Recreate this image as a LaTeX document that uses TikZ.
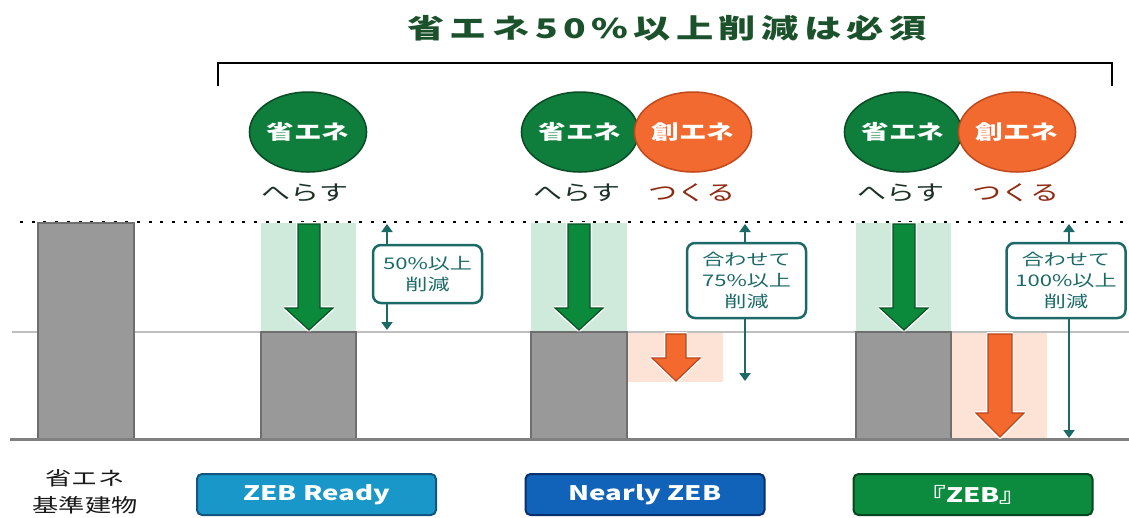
\documentclass[tikz,border=0pt]{standalone}
\usepackage{fontspec}
\setmainfont{Noto Sans CJK JP}[FakeStretch=1.38]
\usetikzlibrary{arrows.meta,shapes.geometric}
\definecolor{titlegreen}{HTML}{1B512B}
\definecolor{cgreen}{HTML}{0F7D3B}
\definecolor{cgreenD}{HTML}{0A4A24}
\definecolor{corange}{HTML}{F26A30}
\definecolor{corangeD}{HTML}{C0481A}
\definecolor{lgreen}{HTML}{CFE9DB}
\definecolor{lorange}{HTML}{FDE3D6}
\definecolor{barfill}{HTML}{999999}
\definecolor{barline}{HTML}{6E6E6E}
\definecolor{teal}{HTML}{1B6A68}
\definecolor{darktext}{HTML}{1C3326}
\definecolor{redtext}{HTML}{8E2B12}
\definecolor{aGreen}{HTML}{0B8A3C}
\definecolor{aGreenD}{HTML}{0A5226}
\definecolor{aOrange}{HTML}{F46A2E}
\definecolor{aOrangeD}{HTML}{B8461A}
\definecolor{bReady}{HTML}{1A97C9}
\definecolor{bReadyD}{HTML}{12557F}
\definecolor{bNearly}{HTML}{1063B8}
\definecolor{bNearlyD}{HTML}{0A2F6E}
\definecolor{bZEB}{HTML}{0C8A3E}
\definecolor{bZEBD}{HTML}{06471F}
\newcommand\DownArrow[7]{% cx, top, headstart, tip, halfshaft, fill, border
  \draw[white, line width=4pt, line join=round] ({#1-#5},#2) -- ({#1+#5},#2) -- ({#1+#5},#3) -- ({#1+24},#3) -- (#1,#4) -- ({#1-24},#3) -- ({#1-#5},#3) -- cycle;
  \draw[#7, fill=#6, line width=1.2pt, line join=miter] ({#1-#5},#2) -- ({#1+#5},#2) -- ({#1+#5},#3) -- ({#1+24},#3) -- (#1,#4) -- ({#1-24},#3) -- ({#1-#5},#3) -- cycle;}
\begin{document}
\begin{tikzpicture}[x=1pt,y=-1pt,
  circ/.style={ellipse, minimum width=112pt, minimum height=80pt, inner sep=0pt, line width=1.5pt, text=white, font=\fontsize{20}{24}\selectfont\bfseries},
  greencirc/.style={circ, fill=cgreen, draw=cgreenD},
  orangecirc/.style={circ, fill=corange, draw=corangeD},
  verb/.style={inner sep=0pt, font=\fontsize{21}{24}\selectfont},
  infobox/.style={draw=teal, line width=2.5pt, rounded corners=8pt, fill=white, text=teal, align=center, inner sep=0pt, font=\fontsize{16}{21}\selectfont},
  dimarrow/.style={teal, line width=2pt, {Triangle[width=11pt,length=8pt]}-{Triangle[width=11pt,length=8pt]}},
  bar/.style={fill=barfill, draw=barline, line width=1.5pt},
  zebbox/.style={rounded corners=5pt, line width=2pt, minimum width=239pt, minimum height=41pt, inner sep=0pt, text=white, font=\fontsize{20}{24}\selectfont\bfseries},
]
\useasboundingbox (0,0) rectangle (1129,517);
\fill[white] (0,0) rectangle (1129,517);

% title and bracket
\node[text=titlegreen, inner sep=0pt, font=\fontsize{27}{30}\selectfont\bfseries\addfontfeature{LetterSpace=20}] (title) at (667,28) {省エネ50\%以上削減は必須};
\coordinate (brL) at (218,86);
\coordinate (brR) at (1112,86);
\draw[black, line width=2.5pt] (brL) -- ++(0,-23) -| (brR);

% circles
\node[greencirc] (c1) at (308,132) {省エネ};
\node[greencirc] (c2) at (580,132) {省エネ};
\node[orangecirc] (o2) at (693,132) {創エネ};
\node[greencirc] (c3) at (903,132) {省エネ};
\node[orangecirc] (o3) at (1017,132) {創エネ};

\node[verb, text=darktext] (h1) at (305,193) {へらす};
\node[verb, text=darktext] (h2) at (577,193) {へらす};
\node[verb, text=redtext] (t2) at (692,193) {つくる};
\node[verb, text=darktext] (h3) at (901,193) {へらす};
\node[verb, text=redtext] (t3) at (1016,193) {つくる};

% light regions
\fill[lgreen] (261,223) rectangle (356,332);
\fill[lgreen] (531,223) rectangle (627,332);
\fill[lgreen] (856,223) rectangle (951,332);
\fill[lorange] (628,332) rectangle (723,382);
\fill[lorange] (951,332) rectangle (1047,439);

% reference lines
\draw[black, line width=2.5pt, dash pattern=on 3pt off 8.7pt] (20,222) -- (1129,222);
\draw[black!25, line width=1.5pt] (12,332) -- (1129,332);

% bars
\draw[bar] (38,223) rectangle (134,439);
\draw[bar] (261,332) rectangle (356,439);
\draw[bar] (531,332) rectangle (627,439);
\draw[bar] (856,332) rectangle (951,439);
\draw[black!50, line width=3pt] (10,439.5) -- (1129,439.5);

% block arrows
\DownArrow{309}{224}{308}{330}{11}{aGreen}{aGreenD}
\DownArrow{579}{224}{308}{330}{11}{aGreen}{aGreenD}
\DownArrow{904}{224}{308}{330}{11}{aGreen}{aGreenD}
\DownArrow{676}{334}{358}{381}{10}{aOrange}{aOrangeD}
\DownArrow{1000}{334}{413}{437}{12}{aOrange}{aOrangeD}

% dimension arrows and boxes
\coordinate (d1t) at (387,224); \coordinate (d1b) at (387,330);
\coordinate (d2t) at (745,224); \coordinate (d2b) at (745,381);
\coordinate (d3t) at (1069,224); \coordinate (d3b) at (1069,438);
\draw[dimarrow] (d1t) -- (d1b);
\draw[dimarrow] (d2t) -- (d2b);
\draw[dimarrow] (d3t) -- (d3b);
\node[infobox, minimum width=109pt, minimum height=58pt] (b1) at (427.5,274) {50\%以上\\削減};
\node[infobox, minimum width=119pt, minimum height=75pt] (b2) at (746.5,280.5) {合わせて\\75\%以上\\削減};
\node[infobox, minimum width=119pt, minimum height=75pt] (b3) at (1066,280.5) {合わせて\\100\%以上\\削減};

% bottom labels
\node[align=center, inner sep=0pt, text=black!90, font=\fontsize{19}{27}\selectfont] (base) at (85,492) {省エネ\\基準建物};
\node[zebbox, fill=bReady, draw=bReadyD] (z1) at (316.5,494.5) {ZEB Ready};
\node[zebbox, fill=bNearly, draw=bNearlyD] (z2) at (645,494.5) {Nearly ZEB};
\node[zebbox, fill=bZEB, draw=bZEBD] (z3) at (973,494.5) {『ZEB』};
\end{tikzpicture}
\end{document}
